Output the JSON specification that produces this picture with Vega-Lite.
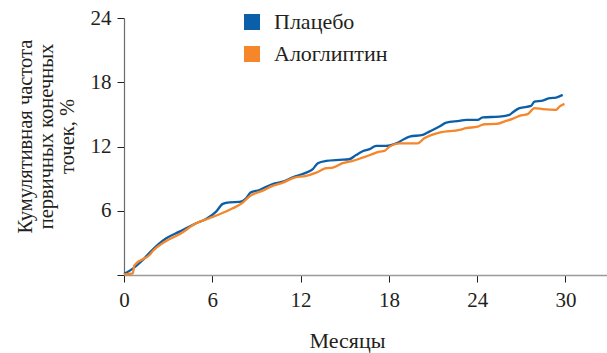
{
  "$schema": "https://vega.github.io/schema/vega-lite/v6.json",
  "width": 483,
  "height": 257,
  "autosize": {"type": "none"},
  "padding": {"left": 124, "top": 18, "right": 0, "bottom": 78},
  "background": "white",
  "config": {
    "font": "Liberation Serif",
    "view": {"stroke": null},
    "axis": {"grid": false}
  },
  "data": {
    "values": [
      {"m": 0, "v": 0.1, "g": "Плацебо"},
      {"m": 0.6, "v": 0.6, "g": "Плацебо"},
      {"m": 1.28, "v": 1.4, "g": "Плацебо"},
      {"m": 1.85, "v": 2.24, "g": "Плацебо"},
      {"m": 2.87, "v": 3.43, "g": "Плацебо"},
      {"m": 3.77, "v": 4.05, "g": "Плацебо"},
      {"m": 4.9, "v": 4.83, "g": "Плацебо"},
      {"m": 5.58, "v": 5.23, "g": "Плацебо"},
      {"m": 6.26, "v": 5.92, "g": "Плацебо"},
      {"m": 6.71, "v": 6.64, "g": "Плацебо"},
      {"m": 7.17, "v": 6.79, "g": "Плацебо"},
      {"m": 7.85, "v": 6.82, "g": "Плацебо"},
      {"m": 8.3, "v": 7.17, "g": "Плацебо"},
      {"m": 8.6, "v": 7.7, "g": "Плацебо"},
      {"m": 9.2, "v": 7.94, "g": "Плацебо"},
      {"m": 10.1, "v": 8.5, "g": "Плацебо"},
      {"m": 10.8, "v": 8.72, "g": "Плацебо"},
      {"m": 11.47, "v": 9.13, "g": "Плацебо"},
      {"m": 12.38, "v": 9.56, "g": "Плацебо"},
      {"m": 12.83, "v": 9.88, "g": "Плацебо"},
      {"m": 13.17, "v": 10.44, "g": "Плацебо"},
      {"m": 13.74, "v": 10.65, "g": "Плацебо"},
      {"m": 14.64, "v": 10.75, "g": "Плацебо"},
      {"m": 15.3, "v": 10.81, "g": "Плацебо"},
      {"m": 15.77, "v": 11.2, "g": "Плацебо"},
      {"m": 16.22, "v": 11.55, "g": "Плацебо"},
      {"m": 16.68, "v": 11.75, "g": "Плацебо"},
      {"m": 17.13, "v": 12.06, "g": "Плацебо"},
      {"m": 17.81, "v": 12.06, "g": "Плацебо"},
      {"m": 18.5, "v": 12.3, "g": "Плацебо"},
      {"m": 19.4, "v": 12.93, "g": "Плацебо"},
      {"m": 20.3, "v": 13.08, "g": "Плацебо"},
      {"m": 20.75, "v": 13.39, "g": "Плацебо"},
      {"m": 21.43, "v": 13.86, "g": "Плацебо"},
      {"m": 21.9, "v": 14.23, "g": "Плацебо"},
      {"m": 22.8, "v": 14.39, "g": "Плацебо"},
      {"m": 23.25, "v": 14.49, "g": "Плацебо"},
      {"m": 24.03, "v": 14.48, "g": "Плацебо"},
      {"m": 24.37, "v": 14.72, "g": "Плацебо"},
      {"m": 25.5, "v": 14.79, "g": "Плацебо"},
      {"m": 26.19, "v": 14.95, "g": "Плацебо"},
      {"m": 26.4, "v": 15.17, "g": "Плацебо"},
      {"m": 26.87, "v": 15.58, "g": "Плацебо"},
      {"m": 27.66, "v": 15.79, "g": "Плацебо"},
      {"m": 27.89, "v": 16.2, "g": "Плацебо"},
      {"m": 28.45, "v": 16.29, "g": "Плацебо"},
      {"m": 28.9, "v": 16.51, "g": "Плацебо"},
      {"m": 29.36, "v": 16.57, "g": "Плацебо"},
      {"m": 29.81, "v": 16.82, "g": "Плацебо"},
      {"m": 0, "v": 0.05, "g": "Алоглиптин"},
      {"m": 0.6, "v": 0.15, "g": "Алоглиптин"},
      {"m": 0.7, "v": 0.9, "g": "Алоглиптин"},
      {"m": 1.73, "v": 1.87, "g": "Алоглиптин"},
      {"m": 1.96, "v": 2.24, "g": "Алоглиптин"},
      {"m": 2.87, "v": 3.18, "g": "Алоглиптин"},
      {"m": 3.77, "v": 3.8, "g": "Алоглиптин"},
      {"m": 4.9, "v": 4.83, "g": "Алоглиптин"},
      {"m": 5.8, "v": 5.3, "g": "Алоглиптин"},
      {"m": 6.49, "v": 5.67, "g": "Алоглиптин"},
      {"m": 7.39, "v": 6.23, "g": "Алоглиптин"},
      {"m": 8.07, "v": 6.76, "g": "Алоглиптин"},
      {"m": 8.53, "v": 7.35, "g": "Алоглиптин"},
      {"m": 9.43, "v": 7.88, "g": "Алоглиптин"},
      {"m": 10.1, "v": 8.32, "g": "Алоглиптин"},
      {"m": 10.8, "v": 8.63, "g": "Алоглиптин"},
      {"m": 11.58, "v": 9.1, "g": "Алоглиптин"},
      {"m": 12.38, "v": 9.25, "g": "Алоглиптин"},
      {"m": 13.06, "v": 9.56, "g": "Алоглиптин"},
      {"m": 13.74, "v": 9.97, "g": "Алоглиптин"},
      {"m": 14.18, "v": 10.03, "g": "Алоглиптин"},
      {"m": 14.86, "v": 10.44, "g": "Алоглиптин"},
      {"m": 15.54, "v": 10.65, "g": "Алоглиптин"},
      {"m": 16.22, "v": 10.96, "g": "Алоглиптин"},
      {"m": 16.68, "v": 11.18, "g": "Алоглиптин"},
      {"m": 17.36, "v": 11.52, "g": "Алоглиптин"},
      {"m": 17.7, "v": 11.59, "g": "Алоглиптин"},
      {"m": 18.04, "v": 11.99, "g": "Алоглиптин"},
      {"m": 18.72, "v": 12.3, "g": "Алоглиптин"},
      {"m": 19.96, "v": 12.3, "g": "Алоглиптин"},
      {"m": 20.4, "v": 12.77, "g": "Алоглиптин"},
      {"m": 21.43, "v": 13.3, "g": "Алоглиптин"},
      {"m": 22.8, "v": 13.55, "g": "Алоглиптин"},
      {"m": 23.25, "v": 13.71, "g": "Алоглиптин"},
      {"m": 24.03, "v": 13.86, "g": "Алоглиптин"},
      {"m": 24.5, "v": 14.08, "g": "Алоглиптин"},
      {"m": 25.28, "v": 14.11, "g": "Алоглиптин"},
      {"m": 25.96, "v": 14.39, "g": "Алоглиптин"},
      {"m": 26.4, "v": 14.58, "g": "Алоглиптин"},
      {"m": 26.87, "v": 14.86, "g": "Алоглиптин"},
      {"m": 27.43, "v": 15.02, "g": "Алоглиптин"},
      {"m": 27.89, "v": 15.58, "g": "Алоглиптин"},
      {"m": 28.45, "v": 15.49, "g": "Алоглиптин"},
      {"m": 29.36, "v": 15.42, "g": "Алоглиптин"},
      {"m": 29.59, "v": 15.73, "g": "Алоглиптин"},
      {"m": 29.93, "v": 15.98, "g": "Алоглиптин"}
    ]
  },
  "mark": {"type": "line", "strokeWidth": 2.3, "interpolate": "monotone"},
  "encoding": {
    "x": {
      "field": "m", "type": "quantitative",
      "scale": {"domain": [0, 32.82], "nice": false, "zero": false},
      "axis": {
        "values": [0, 6, 12, 18, 24, 30],
        "title": "Месяцы",
        "titleFont": "Liberation Serif", "titleFontSize": 22, "titleFontWeight": "normal", "titleColor": "#231f20",
        "titleX": 223, "titleY": 72, "titleBaseline": "alphabetic", "titleAlign": "center",
        "labelFont": "Liberation Serif", "labelFontSize": 21, "labelColor": "#231f20", "labelPadding": 7,
        "labelFlush": false,
        "domainColor": "#9a9a9a", "domainWidth": 1.5,
        "tickColor": "#231f20", "tickSize": 7, "tickWidth": 1
      }
    },
    "y": {
      "field": "v", "type": "quantitative",
      "scale": {"domain": [0, 24], "nice": false},
      "axis": {
        "values": [0, 6, 12, 18, 24],
        "labelExpr": "datum.value == 0 ? '' : datum.label",
        "title": ["Кумулятивная частота", "первичных конечных", "точек, %"],
        "titleFont": "Liberation Serif", "titleFontSize": 20.5, "titleFontWeight": "normal", "titleColor": "#231f20",
        "titleAngle": -90, "titleAlign": "center", "titleBaseline": "middle", "titleLineHeight": 21,
        "titleX": -99, "titleY": 118,
        "labelFont": "Liberation Serif", "labelFontSize": 21, "labelColor": "#231f20", "labelPadding": 6,
        "labelFlush": false,
        "domainColor": "#6a6a6a", "domainWidth": 1.2,
        "tickColor": "#231f20", "tickSize": 7, "tickWidth": 1
      }
    },
    "color": {
      "field": "g", "type": "nominal",
      "scale": {"domain": ["Плацебо", "Алоглиптин"], "range": ["#0a5fa8", "#f5862a"]},
      "legend": {
        "title": null,
        "orient": "none", "legendX": 117, "legendY": -7,
        "symbolType": "square", "symbolSize": 256, "symbolStrokeWidth": 0,
        "labelFont": "Liberation Serif", "labelFontSize": 22, "labelColor": "#231f20",
        "labelOffset": 11, "rowPadding": 10,
        "encode": {"symbols": {"update": {"fill": {"scale": "color", "field": "value"}, "fillOpacity": {"value": 1}}}}
      }
    }
  }
}
